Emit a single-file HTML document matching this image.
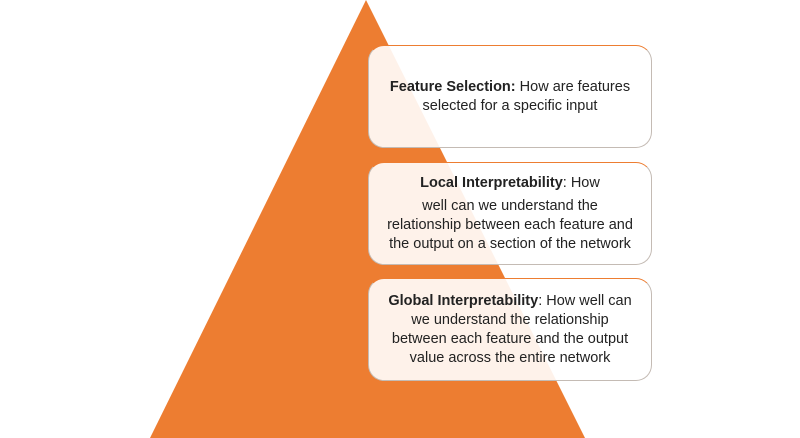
<!DOCTYPE html>
<html><head><meta charset="utf-8"><style>
html,body{margin:0;padding:0;background:#fff;}
body{width:800px;height:438px;position:relative;overflow:hidden;font-family:"Liberation Sans",sans-serif;}
.box{position:absolute;left:368px;width:284px;height:103px;box-sizing:border-box;border:1px solid #c4bbb4;border-top-color:#ed7d31;border-radius:16px;background:rgba(255,255,255,0.9);display:flex;align-items:center;justify-content:center;text-align:center;font-size:14.5px;line-height:19px;color:#222;padding:0 8px;}
b{font-weight:bold;}
</style></head><body>
<svg width="800" height="438" style="position:absolute;left:0;top:0">
<polygon points="366,0 585,438 150,438" fill="#ed7d31"/>
</svg>
<div class="box" style="top:45px"><div><b>Feature Selection:</b> How are features<br>selected for a specific input</div></div>
<div class="box" style="top:162px"><div><b>Local Interpretability</b>: How<br><span style="display:block;margin-top:4px">well can we understand the<br>relationship between each feature and<br>the output on a section of the network</span></div></div>
<div class="box" style="top:278px"><div><b>Global Interpretability</b>: How well can<br>we understand the relationship<br>between each feature and the output<br>value across the entire network</div></div>
</body></html>
